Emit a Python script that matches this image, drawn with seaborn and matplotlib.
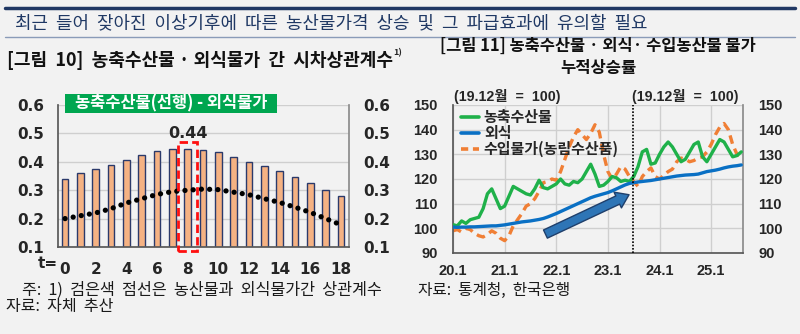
import numpy as np
import pandas as pd
import matplotlib
matplotlib.use('Agg')
import matplotlib.pyplot as plt
import seaborn as sns
from matplotlib.patches import Rectangle
from matplotlib.lines import Line2D

# ---------------- data ----------------
lags = list(range(19))
lag_ticks = [0, 2, 4, 6, 8, 10, 12, 14, 16, 18]
corr_bars = [0.341, 0.359, 0.374, 0.388, 0.408, 0.425, 0.438, 0.444, 0.446, 0.440,
             0.433, 0.418, 0.401, 0.384, 0.367, 0.347, 0.325, 0.300, 0.278]
corr_dots = [0.200, 0.210, 0.220, 0.235, 0.255, 0.270, 0.285, 0.295, 0.300, 0.304,
             0.302, 0.293, 0.284, 0.270, 0.257, 0.240, 0.222, 0.200, 0.178]
peak_lag = 8
peak_label = "0.44"

months = list(range(68))  # 2020.1 .. 2025.8
year_ticks = [0, 12, 24, 36, 48, 60]
year_labels = ["20.1", "21.1", "22.1", "23.1", "24.1", "25.1"]
agri = [101.5, 101, 103, 102, 103.5, 104, 104.5, 108, 114, 116, 112, 108,
        109, 113, 117, 116, 115, 114, 113.5, 116, 119.5, 116.5, 116, 117,
        118, 120, 118, 117.5, 119, 118.5, 120, 123, 126, 122, 117, 117.5,
        119, 121, 120.5, 119, 119.5, 119, 121, 125, 131, 132, 126, 126.5,
        130, 133, 135, 133, 130, 127, 128, 131, 134, 135, 129, 127,
        130, 133, 136, 135, 132, 129, 129.5, 131]
dining = [100.5, 100.4, 100.5, 100.5, 100.6, 100.6, 100.7, 100.8, 100.9, 101, 101, 101.2,
          101.4, 101.7, 102, 102.3, 102.6, 102.8, 103, 103.3, 103.6, 104, 104.6, 105.3,
          106, 106.8, 107.6, 108.4, 109.2, 110, 110.8, 111.6, 112.4, 113, 113.5, 114,
          114.5, 115.2, 116, 116.8, 117.6, 118.2, 118.5, 118.8, 119, 119.2, 119.4, 119.7,
          120, 120.3, 120.6, 120.9, 121.2, 121.4, 121.6, 121.7, 121.8, 122, 122.5, 123,
          123.3, 123.6, 124, 124.5, 124.9, 125.2, 125.4, 125.7]
imports = [99, 99.5, 98.5, 100, 99.5, 98, 97, 96.5, 97.5, 99, 98, 96,
           95, 97, 101, 103.5, 106, 109, 110, 112, 115, 118.5, 119, 120,
           119.5, 123, 128, 133, 137, 140, 138, 136, 138.5, 142, 139, 130,
           123, 120, 122, 125, 124, 121, 119, 117, 121, 123, 124.5, 121,
           120, 121.5, 123, 124, 127, 128.5, 128, 127, 127.5, 128.5, 129, 131,
           134, 138, 141, 142.5, 140, 134, 130, 129]
series_names = ["농축수산물", "외식", "수입물가(농림수산품)"]
series_colors = ["#1fb14a", "#0a70c4", "#f07f35"]

# ---------------- style ----------------
sns.set_theme(style="white")
KR = ['Noto Sans CJK KR', 'DejaVu Sans']
NUM = ['Liberation Sans', 'Noto Sans CJK KR']
plt.rcParams['font.family'] = KR
BG = "#f2f2f2"
W, H = 800, 334
fig = plt.figure(figsize=(W / 100, H / 100), dpi=100, facecolor=BG)
renderer = fig.canvas.get_renderer()


def fx(px):
    return px / W


def fy(py):
    return 1 - py / H


def fit_text(x_px, y_px, s, width_px, size=11, ha="left", **kw):
    t = fig.text(fx(x_px), fy(y_px), s, fontsize=size, ha=ha, va="center", **kw)
    w = t.get_window_extent(renderer).width
    t.set_fontsize(size * width_px / w)
    return t


# header
fig.add_artist(Line2D([fx(5), fx(795)], [fy(8), fy(8)], color="#203864", lw=2.5))
fit_text(15, 23, "최근  들어  잦아진  이상기후에  따른  농산물가격  상승  및  그  파급효과에  유의할  필요",
         628, color="#1f3864")
fig.add_artist(Line2D([fx(5), fx(795)], [fy(37), fy(37)], color="#8a9bb8", lw=1))

fit_text(7, 60, "[그림  10]  농축수산물 · 외식물가  간  시차상관계수", 385,
         fontweight="bold", color="#111111")
fig.text(fx(393), fy(53), "1)", fontsize=6.5, fontweight="bold", va="center", ha="left")
fit_text(598, 46, "[그림 11] 농축수산물 · 외식· 수입농산물 물가", 315, ha="center",
         fontweight="bold", color="#111111")
fit_text(598, 68, "누적상승률", 76, ha="center", fontweight="bold", color="#111111")

# ---------------- left chart ----------------
ax1 = fig.add_axes([fx(58), fy(247), fx(349 - 58), (247 - 105) / H])
ax1.set_facecolor(BG)
sns.barplot(x=lags, y=corr_bars, color="#f5b283", edgecolor="#2b3a6b", linewidth=1.0,
            width=0.43, saturation=1, ax=ax1, zorder=2)
ax1.plot(lags, corr_dots, color="black", lw=3.8, linestyle=(0, (0.01, 1.55)),
         dash_capstyle="round", zorder=3)
ax1.set_xlim(-0.46, 18.52)
ax1.set_ylim(0.1, 0.6)
ax1.set_yticks([0.1, 0.2, 0.3, 0.4, 0.5, 0.6])
ax1.set_yticklabels(["0.1", "0.2", "0.3", "0.4", "0.5", "0.6"])
ax1.set_xticks(lag_ticks)
ax1.set_xticklabels([str(t) for t in lag_ticks])
ax1.tick_params(axis="y", labelleft=True, labelright=True, length=0, pad=10,
                labelsize=11)
ax1.tick_params(axis="x", length=0, pad=11, labelsize=11)
for lab in ax1.get_xticklabels() + ax1.get_yticklabels():
    lab.set_fontweight("bold")
    lab.set_family(["DejaVu Sans"])
ax1.yaxis.grid(True, color="#cfcfcf", lw=1)
ax1.set_axisbelow(True)
ax1.spines["top"].set_visible(False)
ax1.spines["left"].set_color("#595959")
ax1.spines["bottom"].set_color("#595959")
ax1.spines["right"].set_color("#8c8c8c")
ax1.set_xlabel("")
ax1.set_ylabel("")
ax1.text(-0.5, -0.113, "t=", transform=ax1.get_xaxis_transform(), fontsize=11,
         fontweight="bold", ha="right", va="center", family=["DejaVu Sans"])

# peak highlight
ax1.add_patch(Rectangle((peak_lag - 0.63, 0.086), 1.26, 0.384, fill=False,
                        edgecolor="#ff1010", lw=2, linestyle=(0, (3, 1.5)),
                        clip_on=False, zorder=4))
ax1.text(peak_lag, 0.50, peak_label, ha="center", va="center", fontsize=11.5,
         fontweight="bold", family=["DejaVu Sans"])

# green label
fig.add_artist(Rectangle((fx(65), fy(113)), fx(212), 19 / H, transform=fig.transFigure,
                         facecolor="#00a650", edgecolor="none"))
fit_text(171, 103.5, "농축수산물(선행) - 외식물가", 192, size=10.5, ha="center",
         color="white", fontweight="bold")

# ---------------- right chart ----------------
ax2 = fig.add_axes([fx(453), fy(253), fx(743 - 453), (253 - 105) / H])
ax2.set_facecolor(BG)
sns.lineplot(x=months, y=agri, color=series_colors[0], linewidth=2.4, ax=ax2, zorder=3)
sns.lineplot(x=months, y=dining, color=series_colors[1], linewidth=2.4, ax=ax2, zorder=3)
sns.lineplot(x=months, y=imports, color=series_colors[2], linewidth=2.4, ax=ax2, zorder=2,
             linestyle=(0, (2.6, 1.6)))
ax2.set_xlim(0, 67.4)
ax2.set_ylim(90, 150)
ax2.set_yticks([90, 100, 110, 120, 130, 140, 150])
ax2.set_xticks(year_ticks)
ax2.set_xticklabels(year_labels)
ax2.tick_params(axis="y", labelleft=True, labelright=True, length=0, pad=11, labelsize=10.5)
ax2.tick_params(axis="x", length=0, pad=8, labelsize=10.5)
for lab in ax2.get_xticklabels() + ax2.get_yticklabels():
    lab.set_fontweight("bold")
    lab.set_family(NUM)
ax2.set_xlabel("")
ax2.set_ylabel("")
ax2.grid(True, color="#cfcfcf", lw=1)
ax2.set_axisbelow(True)
ax2.spines["top"].set_visible(False)
ax2.spines["left"].set_color("#595959")
ax2.spines["bottom"].set_color("#595959")
ax2.spines["right"].set_color("#8c8c8c")

ax2.axvline(41.9, color="black", lw=1.2, linestyle=(0, (1, 1)), zorder=4)
for xm in (0.2, 41.7):
    t = ax2.text(xm, 150.4, "(19.12월  =  100)", fontsize=10, fontweight="bold",
                 ha="left", va="bottom", family=NUM)
    w = t.get_window_extent(renderer).width
    t.set_fontsize(10 * 107 / w)

ax2.annotate("", xy=(41.5, 114.1), xytext=(20.9, 97.2),
             arrowprops=dict(arrowstyle="simple,head_length=0.9,head_width=1.25,tail_width=0.65",
                             mutation_scale=10, fc="#2e75b6", ec="#1f3f6b", lw=1),
             zorder=5)

handles = [Line2D([], [], color=series_colors[0], lw=2.6),
           Line2D([], [], color=series_colors[1], lw=2.6),
           Line2D([], [], color=series_colors[2], lw=2.6, linestyle=(0, (2.0, 1.3)))]
leg = ax2.legend(handles, series_names, loc="upper left", bbox_to_anchor=(-0.01, 1.045),
                 frameon=False, fontsize=10.8, handlelength=1.2, handletextpad=0.35,
                 labelspacing=0.0, borderaxespad=0.3)
for t in leg.get_texts():
    t.set_fontweight("bold")

# ---------------- footnotes ----------------
fit_text(22, 290, "주:  1)  검은색  점선은  농산물과  외식물가간  상관계수", 360, color="#1a1a1a")
fit_text(6, 306, "자료:  자체  추산", 107, color="#1a1a1a")
fit_text(418, 290, "자료:  통계청,  한국은행", 152, color="#1a1a1a")

fig.savefig("out.png", dpi=100, facecolor=BG)
